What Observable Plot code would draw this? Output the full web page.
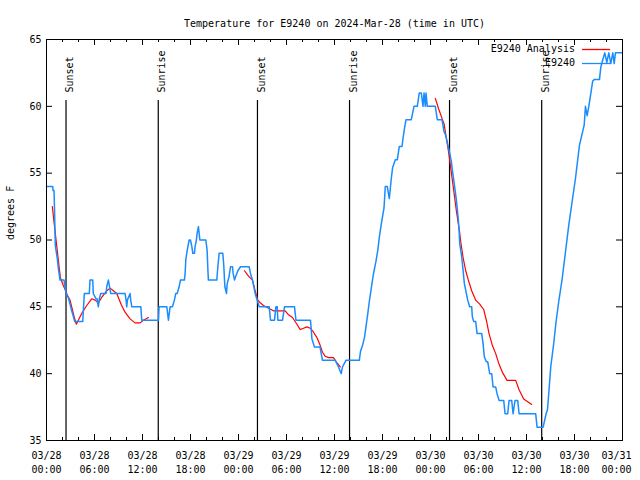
<!DOCTYPE html>
<html><head><meta charset="utf-8">
<script src="https://cdn.jsdelivr.net/npm/d3@7"></script>
<script src="https://cdn.jsdelivr.net/npm/@observablehq/plot@0.6"></script>
<style>
body{margin:0;background:#fff;}
#wrap{position:relative;width:640px;height:480px;font-family:"DejaVu Sans Mono",monospace;font-size:10px;color:#000;}
#wrap > svg{display:block;}
.legtext{position:absolute;white-space:pre;line-height:12px;text-align:right;}
#legsvg{position:absolute;left:0;top:0;pointer-events:none;}
</style></head><body><div id="wrap"></div>
<script>
const chartTitle = "Temperature for E9240 on 2024-Mar-28 (time in UTC)";
const yLabel = "degrees F";
const seriesNames = ["E9240 Analysis", "E9240"];
const seriesColors = ["#ff0000", "#1a8cff"];
const startUTC = Date.UTC(2024, 2, 28);
const spanHours = 72;
const yTicks = [35, 40, 45, 50, 55, 60, 65];
const eventHours = [2.44, 13.97, 26.37, 37.88, 50.38, 61.9];
const eventNames = ["Sunset", "Sunrise", "Sunset", "Sunrise", "Sunset", "Sunrise"];

// E9240 observations: hours since 2024-03-28 00:00 UTC, degrees F
const obsHours = [0,0.78,0.81,0.94,1.0,1.1,1.35,1.48,1.69,2.19,2.44,2.73,2.94,3.15,3.35,3.53,4.53,4.73,5.35,5.44,5.78,5.85,6.19,6.32,6.48,6.6,6.78,7.44,7.53,7.73,7.94,8.03,9.82,9.95,10.03,10.11,10.45,10.53,10.66,11.79,11.91,14.0,14.07,15.04,15.24,15.45,15.74,15.99,16.16,16.33,16.58,16.74,17.24,17.33,17.41,17.58,17.74,17.83,17.99,18.17,18.29,18.49,18.57,18.74,18.83,18.99,19.17,19.92,20.08,20.17,20.24,21.29,21.42,21.58,22.04,22.17,22.25,22.3,22.5,22.58,22.83,23.0,23.25,23.33,23.5,23.67,23.92,24.25,25.33,25.5,25.75,25.92,26.08,26.33,26.59,27.84,28.0,28.5,28.67,28.84,28.92,29.5,29.75,31.0,31.18,33.0,33.18,33.5,34.18,34.5,36.09,36.5,36.84,37.0,37.43,39.1,39.26,39.5,39.76,39.93,40.14,40.35,40.6,40.85,41.18,41.43,41.6,41.85,42.19,42.35,42.6,42.85,43.1,43.26,43.6,43.85,44.1,44.44,44.6,44.76,44.94,45.6,45.94,46.35,46.6,46.85,47.06,47.19,47.35,47.44,47.6,48.6,48.85,49.44,49.52,49.69,49.86,50.07,50.36,50.6,50.73,50.9,51.07,51.23,51.36,51.48,51.57,51.65,51.9,52.07,52.23,52.48,52.65,52.9,53.15,53.23,53.4,53.65,53.82,54.4,54.57,54.73,54.98,55.15,55.4,55.65,55.82,56.15,56.32,56.57,57.15,57.32,57.65,57.82,58.15,58.32,58.57,58.9,59.07,61.15,61.32,62.08,62.45,62.62,62.78,63.03,63.37,63.7,64.03,64.46,64.87,65.28,65.71,66.12,66.62,67.21,67.37,67.58,67.79,68.28,68.46,69.12,69.28,69.54,69.78,70.04,70.29,70.54,70.79,70.96,71.12,71.96];
const obsTemps = [54.0,54.0,53.7,53.7,52.4,49.6,48.6,47.9,47.0,47.0,46.0,45.7,45.2,44.7,44.3,43.9,43.9,46.0,46.0,47.0,47.0,46.0,45.6,45.6,45.0,45.6,46.0,46.0,46.5,47.0,46.3,46.0,46.0,45.5,45.0,45.5,46.0,45.5,45.0,45.0,44.0,44.0,45.0,45.0,44.0,45.0,45.0,45.5,46.0,46.0,46.5,47.0,47.0,47.5,48.5,49.2,49.7,50.0,50.0,49.5,49.0,49.0,49.5,50.0,50.5,51.0,50.0,50.0,49.2,47.8,47.0,47.0,48.0,49.0,49.0,48.0,47.0,46.5,46.0,46.7,47.3,48.0,48.0,47.5,47.0,47.3,47.7,48.0,48.0,47.5,47.0,46.5,46.0,45.5,45.0,45.0,44.0,44.0,45.0,45.0,44.0,44.0,45.0,45.0,44.0,44.0,42.6,42.0,42.0,41.0,41.0,40.5,40.0,40.5,41.0,41.0,41.7,42.1,42.75,43.5,44.4,45.4,46.4,47.4,48.4,49.3,50.2,51.2,52.4,54.0,54.0,53.1,54.6,55.4,56.0,56.0,57.0,57.0,57.75,58.4,59.0,59.0,60.0,60.0,61.0,61.0,60.0,61.0,60.0,61.0,60.0,60.0,59.0,59.0,58.7,58.1,57.9,57.4,56.6,55.9,55.25,54.5,53.75,53.0,52.25,51.5,50.75,49.75,48.75,47.75,46.75,46.0,45.5,45.0,45.0,44.25,43.9,43.9,43.0,43.0,42.25,41.25,40.9,40.9,40.0,40.0,39.0,39.0,38.5,38.0,38.0,37.0,37.0,38.0,38.0,37.0,38.0,38.0,37.0,37.0,36.0,36.0,37.0,37.3,38.5,40.5,42.1,43.9,45.4,47.1,49.1,51.1,52.9,54.6,57.1,58.6,60.0,59.3,60.0,61.9,62.0,62.0,62.9,63.5,64.0,63.3,64.0,63.2,64.0,63.2,64.0,64.0];

// E9240 Analysis (null = gap)
const anaHours = [0.73,1.06,1.48,1.73,2.1,2.4,2.65,2.94,3.23,3.48,3.73,3.98,4.4,5.03,5.65,6.07,6.48,6.9,7.53,7.94,8.36,8.78,9.32,9.82,10.45,11.07,11.7,12.11,12.74,
  12.8,
  24.75,25.25,25.75,26.08,26.42,26.71,27.12,27.75,28.37,29.0,29.84,30.25,30.75,31.3,31.72,32.13,32.55,32.97,33.38,33.8,34.22,34.5,34.84,35.26,35.88,36.31,36.72,
  36.8,
  48.6,49.02,49.44,49.69,50.23,50.73,51.23,51.61,51.82,52.07,52.4,52.73,53.15,53.65,54.15,54.65,54.98,55.32,55.74,56.15,56.57,56.99,57.57,58.65,59.07,59.65,60.15,60.65];
const anaTemps = [52.5,50.7,48.5,47.2,46.6,46.2,45.8,45.5,44.8,44.2,43.7,44.0,44.5,45.1,45.6,45.5,45.3,45.7,46.2,46.4,46.2,46.0,45.2,44.6,44.1,43.8,43.8,44.0,44.2,
  null,
  47.7,47.3,47.0,46.2,45.5,45.3,45.1,44.9,44.7,44.7,44.7,44.4,44.2,43.7,43.3,43.4,43.5,43.4,43.1,42.7,42.1,41.6,41.3,41.2,41.2,40.8,40.5,
  null,
  60.6,59.8,59.1,58.7,56.7,54.5,52.2,50.7,49.7,48.7,47.7,47.0,46.2,45.5,45.2,44.8,44.0,43.0,42.1,41.5,40.7,40.1,39.5,39.5,38.8,38.1,37.9,37.7];

const toDate = h => new Date(startUTC + h * 3600000);
const obs = obsHours.map((h, i) => ({t: toDate(h), v: obsTemps[i]}));
const ana = anaHours.map((h, i) => ({t: toDate(h), v: anaTemps[i]}));
const events = eventHours.map((h, i) => ({t: toDate(h), name: eventNames[i]}));

const W = 640, H = 480, mL = 46, mR = 18, mT = 39, mB = 40;
const frameW = W - mL - mR, frameH = H - mT - mB;
const x0 = toDate(0), x1 = toDate(spanHours);
const majorTicks = d3.utcHour.every(6).range(x0, toDate(spanHours + 0.01));
const minorTicks = d3.utcHour.every(2).range(x0, toDate(spanHours + 0.01)).filter(d => d.getUTCHours() % 6 !== 0);
const innerLabels = majorTicks.slice(0, -1);
const lastLabel = majorTicks.slice(-1);
const fmtDay = d3.utcFormat("%m/%d"), fmtTime = d3.utcFormat("%H:%M");

const chart = Plot.plot({
  width: W, height: H,
  marginLeft: mL, marginRight: mR, marginTop: mT, marginBottom: mB,
  style: {fontFamily: '"DejaVu Sans Mono", monospace', fontSize: "10px", background: "white", color: "black"},
  x: {type: "utc", domain: [x0, x1]},
  y: {domain: [35, 65]},
  marks: [
    Plot.ruleX(events, {x: "t", stroke: "black", strokeWidth: 1.2, insetTop: 61}),
    Plot.text(events, {x: "t", text: "name", frameAnchor: "top", dy: 53, rotate: -90, textAnchor: "start", fill: "black"}),
    Plot.line(ana, {x: "t", y: "v", stroke: seriesColors[0], strokeWidth: 1.2}),
    Plot.line(obs, {x: "t", y: "v", stroke: seriesColors[1], strokeWidth: 1.5}),
    Plot.tickX(majorTicks, {x: d => d, insetTop: frameH - 6, stroke: "black"}),
    Plot.tickX(majorTicks, {x: d => d, insetBottom: frameH - 6, stroke: "black"}),
    Plot.tickX(minorTicks, {x: d => d, insetTop: frameH - 3, stroke: "black"}),
    Plot.tickX(minorTicks, {x: d => d, insetBottom: frameH - 3, stroke: "black"}),
    Plot.tickY(yTicks, {y: d => d, insetRight: frameW - 6, stroke: "black"}),
    Plot.tickY(yTicks, {y: d => d, insetLeft: frameW - 6, stroke: "black"}),
    Plot.axisX({ticks: innerLabels, tickSize: 0, tickPadding: 11, tickFormat: fmtDay, label: null}),
    Plot.axisX({ticks: innerLabels, tickSize: 0, tickPadding: 25, tickFormat: fmtTime, label: null}),
    Plot.axisX({ticks: lastLabel, tickSize: 0, tickPadding: 11, tickFormat: fmtDay, label: null, dx: -6}),
    Plot.axisX({ticks: lastLabel, tickSize: 0, tickPadding: 25, tickFormat: fmtTime, label: null, dx: -6}),
    Plot.axisY({ticks: yTicks, tickSize: 0, tickPadding: 5, label: null}),
    Plot.frame({stroke: "black"}),
    Plot.text([chartTitle], {frameAnchor: "top", dy: -20, fill: "black"}),
    Plot.text([yLabel], {frameAnchor: "left", dx: -36, rotate: -90, fill: "black"})
  ]
});
const wrap = document.getElementById("wrap");
wrap.appendChild(chart);

// legend (top-right inside plot): text as HTML, sample lines in an overlay svg
const ns = "http://www.w3.org/2000/svg";
const legSvg = document.createElementNS(ns, "svg");
legSvg.setAttribute("id", "legsvg");
legSvg.setAttribute("width", W);
legSvg.setAttribute("height", H);
wrap.appendChild(legSvg);
seriesNames.forEach((name, i) => {
  const cy = 49 + i * 14;
  const t = document.createElement("div");
  t.className = "legtext";
  t.textContent = name;
  t.style.right = (W - 575) + "px";
  t.style.top = (cy - 6) + "px";
  wrap.appendChild(t);
  const ln = document.createElementNS(ns, "line");
  ln.setAttribute("x1", 582);
  ln.setAttribute("x2", 610);
  ln.setAttribute("y1", cy + 0.5);
  ln.setAttribute("y2", cy + 0.5);
  ln.setAttribute("stroke", seriesColors[i]);
  ln.setAttribute("stroke-width", 1.3);
  legSvg.appendChild(ln);
});
</script>
</body></html>
